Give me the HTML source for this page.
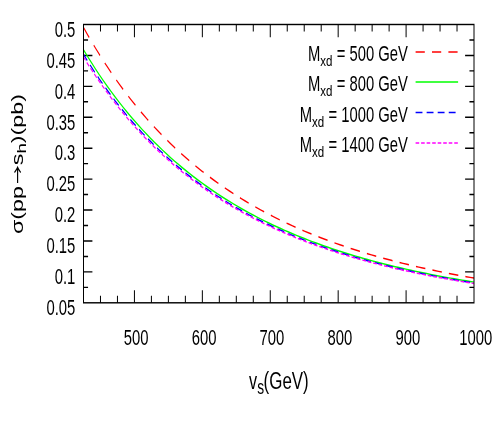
<!DOCTYPE html>
<html><head><meta charset="utf-8"><title>plot</title>
<style>html,body{margin:0;padding:0;background:#fff;}svg{display:block;}text{font-family:"Liberation Sans",sans-serif;fill:#000;}</style>
</head><body>
<svg width="498" height="429" viewBox="0 0 498 429">
<rect x="0" y="0" width="498" height="429" fill="#fff"/>
<defs><filter id="gs" filterUnits="userSpaceOnUse" x="-10" y="-10" width="520" height="450" color-interpolation-filters="sRGB"><feOffset dx="0" dy="0"/></filter></defs>
<g transform="scale(1,1.42)">
<g fill="none" stroke="#000" stroke-width="1.0" stroke-linecap="butt">
<path d="M100.48,213.24v-4.95 M100.48,17.25v4.95 M117.46,213.24v-4.95 M117.46,17.25v4.95 M134.43,213.24v-8.9 M134.43,17.25v8.9 M151.41,213.24v-4.95 M151.41,17.25v4.95 M168.39,213.24v-4.95 M168.39,17.25v4.95 M185.37,213.24v-4.95 M185.37,17.25v4.95 M202.35,213.24v-8.9 M202.35,17.25v8.9 M219.33,213.24v-4.95 M219.33,17.25v4.95 M236.30,213.24v-4.95 M236.30,17.25v4.95 M253.28,213.24v-4.95 M253.28,17.25v4.95 M270.26,213.24v-8.9 M270.26,17.25v8.9 M287.24,213.24v-4.95 M287.24,17.25v4.95 M304.22,213.24v-4.95 M304.22,17.25v4.95 M321.20,213.24v-4.95 M321.20,17.25v4.95 M338.17,213.24v-8.9 M338.17,17.25v8.9 M355.15,213.24v-4.95 M355.15,17.25v4.95 M372.13,213.24v-4.95 M372.13,17.25v4.95 M389.11,213.24v-4.95 M389.11,17.25v4.95 M406.09,213.24v-8.9 M406.09,17.25v8.9 M423.07,213.24v-4.95 M423.07,17.25v4.95 M440.04,213.24v-4.95 M440.04,17.25v4.95 M457.02,213.24v-4.95 M457.02,17.25v4.95 M83.5,202.35h4.55 M474.0,202.35h-4.55 M83.5,191.46h8.9 M474.0,191.46h-8.9 M83.5,180.58h4.55 M474.0,180.58h-4.55 M83.5,169.69h8.9 M474.0,169.69h-8.9 M83.5,158.80h4.55 M474.0,158.80h-4.55 M83.5,147.91h8.9 M474.0,147.91h-8.9 M83.5,137.02h4.55 M474.0,137.02h-4.55 M83.5,126.13h8.9 M474.0,126.13h-8.9 M83.5,115.25h4.55 M474.0,115.25h-4.55 M83.5,104.36h8.9 M474.0,104.36h-8.9 M83.5,93.47h4.55 M474.0,93.47h-4.55 M83.5,82.58h8.9 M474.0,82.58h-8.9 M83.5,71.69h4.55 M474.0,71.69h-4.55 M83.5,60.81h8.9 M474.0,60.81h-8.9 M83.5,49.92h4.55 M474.0,49.92h-4.55 M83.5,39.03h8.9 M474.0,39.03h-8.9 M83.5,28.14h4.55 M474.0,28.14h-4.55"/>
</g>
<g fill="none" stroke-width="1.05" stroke-linecap="butt" stroke-linejoin="round">
<path d="M83.50,19.27 L87.44,24.24 L91.39,29.05 L95.33,33.72 L99.28,38.25 L103.22,42.64 L107.17,46.91 L111.11,51.05 L115.06,55.08 L119.00,58.98 L122.94,62.78 L126.89,66.47 L130.83,70.06 L134.78,73.54 L138.72,76.94 L142.67,80.23 L146.61,83.44 L150.56,86.56 L154.50,89.60 L158.44,92.56 L162.39,95.44 L166.33,98.24 L170.28,100.97 L174.22,103.63 L178.17,106.22 L182.11,108.75 L186.06,111.21 L190.00,113.60 L193.94,115.94 L197.89,118.22 L201.83,120.44 L205.78,122.60 L209.72,124.72 L213.67,126.78 L217.61,128.79 L221.56,130.75 L225.50,132.66 L229.44,134.53 L233.39,136.35 L237.33,138.13 L241.28,139.86 L245.22,141.56 L249.17,143.21 L253.11,144.83 L257.06,146.41 L261.00,147.95 L264.94,149.45 L268.89,150.92 L272.83,152.36 L276.78,153.76 L280.72,155.14 L284.67,156.48 L288.61,157.79 L292.56,159.07 L296.50,160.32 L300.44,161.54 L304.39,162.74 L308.33,163.91 L312.28,165.05 L316.22,166.17 L320.17,167.26 L324.11,168.33 L328.06,169.37 L332.00,170.40 L335.94,171.40 L339.89,172.37 L343.83,173.33 L347.78,174.27 L351.72,175.18 L355.67,176.08 L359.61,176.96 L363.56,177.82 L367.50,178.66 L371.44,179.48 L375.39,180.29 L379.33,181.07 L383.28,181.84 L387.22,182.60 L391.17,183.34 L395.11,184.06 L399.06,184.77 L403.00,185.47 L406.94,186.15 L410.89,186.81 L414.83,187.47 L418.78,188.11 L422.72,188.73 L426.67,189.34 L430.61,189.95 L434.56,190.53 L438.50,191.11 L442.44,191.68 L446.39,192.23 L450.33,192.77 L454.28,193.31 L458.22,193.83 L462.17,194.34 L466.11,194.84 L470.06,195.33 L474.00,195.82" stroke="#ff0000" stroke-dasharray="9.5 7.14" stroke-dashoffset="0.4"/>
<path d="M83.50,35.02 L87.44,39.62 L91.39,44.09 L95.33,48.41 L99.28,52.61 L103.22,56.69 L107.17,60.64 L111.11,64.48 L115.06,68.21 L119.00,71.83 L122.94,75.35 L126.89,78.77 L130.83,82.10 L134.78,85.33 L138.72,88.48 L142.67,91.53 L146.61,94.51 L150.56,97.40 L154.50,100.22 L158.44,102.96 L162.39,105.63 L166.33,108.23 L170.28,110.76 L174.22,113.22 L178.17,115.62 L182.11,117.96 L186.06,120.24 L190.00,122.47 L193.94,124.63 L197.89,126.74 L201.83,128.80 L205.78,130.81 L209.72,132.77 L213.67,134.68 L217.61,136.54 L221.56,138.36 L225.50,140.13 L229.44,141.86 L233.39,143.55 L237.33,145.20 L241.28,146.81 L245.22,148.38 L249.17,149.91 L253.11,151.41 L257.06,152.88 L261.00,154.30 L264.94,155.70 L268.89,157.06 L272.83,158.40 L276.78,159.70 L280.72,160.97 L284.67,162.21 L288.61,163.42 L292.56,164.61 L296.50,165.77 L300.44,166.90 L304.39,168.01 L308.33,169.10 L312.28,170.16 L316.22,171.19 L320.17,172.21 L324.11,173.20 L328.06,174.17 L332.00,175.11 L335.94,176.04 L339.89,176.95 L343.83,177.83 L347.78,178.70 L351.72,179.55 L355.67,180.38 L359.61,181.20 L363.56,181.99 L367.50,182.77 L371.44,183.53 L375.39,184.28 L379.33,185.01 L383.28,185.73 L387.22,186.43 L391.17,187.11 L395.11,187.78 L399.06,188.44 L403.00,189.08 L406.94,189.71 L410.89,190.33 L414.83,190.94 L418.78,191.53 L422.72,192.11 L426.67,192.68 L430.61,193.24 L434.56,193.78 L438.50,194.32 L442.44,194.84 L446.39,195.35 L450.33,195.86 L454.28,196.35 L458.22,196.84 L462.17,197.31 L466.11,197.78 L470.06,198.23 L474.00,198.68" stroke="#00ff00"/>
<path d="M83.50,38.26 L87.44,42.78 L91.39,47.17 L95.33,51.43 L99.28,55.56 L103.22,59.57 L107.17,63.46 L111.11,67.24 L115.06,70.91 L119.00,74.47 L122.94,77.94 L126.89,81.30 L130.83,84.57 L134.78,87.75 L138.72,90.85 L142.67,93.85 L146.61,96.78 L150.56,99.63 L154.50,102.40 L158.44,105.10 L162.39,107.72 L166.33,110.28 L170.28,112.77 L174.22,115.19 L178.17,117.56 L182.11,119.86 L186.06,122.10 L190.00,124.29 L193.94,126.42 L197.89,128.50 L201.83,130.52 L205.78,132.50 L209.72,134.42 L213.67,136.30 L217.61,138.13 L221.56,139.92 L225.50,141.67 L229.44,143.37 L233.39,145.03 L237.33,146.65 L241.28,148.24 L245.22,149.78 L249.17,151.29 L253.11,152.77 L257.06,154.20 L261.00,155.61 L264.94,156.98 L268.89,158.32 L272.83,159.63 L276.78,160.92 L280.72,162.17 L284.67,163.39 L288.61,164.58 L292.56,165.75 L296.50,166.89 L300.44,168.01 L304.39,169.10 L308.33,170.16 L312.28,171.21 L316.22,172.23 L320.17,173.22 L324.11,174.20 L328.06,175.15 L332.00,176.08 L335.94,176.99 L339.89,177.89 L343.83,178.76 L347.78,179.61 L351.72,180.45 L355.67,181.27 L359.61,182.07 L363.56,182.85 L367.50,183.62 L371.44,184.37 L375.39,185.10 L379.33,185.82 L383.28,186.52 L387.22,187.21 L391.17,187.89 L395.11,188.55 L399.06,189.19 L403.00,189.83 L406.94,190.45 L410.89,191.06 L414.83,191.65 L418.78,192.23 L422.72,192.80 L426.67,193.36 L430.61,193.91 L434.56,194.45 L438.50,194.98 L442.44,195.49 L446.39,196.00 L450.33,196.49 L454.28,196.98 L458.22,197.45 L462.17,197.92 L466.11,198.38 L470.06,198.83 L474.00,199.27" stroke="#0000ff" stroke-dasharray="6.9 4.25" stroke-dashoffset="1.2"/>
<path d="M83.50,40.20 L87.44,44.68 L91.39,49.03 L95.33,53.24 L99.28,57.33 L103.22,61.30 L107.17,65.16 L111.11,68.90 L115.06,72.53 L119.00,76.06 L122.94,79.49 L126.89,82.82 L130.83,86.06 L134.78,89.21 L138.72,92.27 L142.67,95.25 L146.61,98.15 L150.56,100.96 L154.50,103.71 L158.44,106.38 L162.39,108.98 L166.33,111.51 L170.28,113.97 L174.22,116.38 L178.17,118.72 L182.11,120.99 L186.06,123.22 L190.00,125.38 L193.94,127.49 L197.89,129.55 L201.83,131.55 L205.78,133.51 L209.72,135.41 L213.67,137.28 L217.61,139.09 L221.56,140.86 L225.50,142.59 L229.44,144.27 L233.39,145.92 L237.33,147.53 L241.28,149.09 L245.22,150.62 L249.17,152.12 L253.11,153.58 L257.06,155.00 L261.00,156.39 L264.94,157.75 L268.89,159.08 L272.83,160.38 L276.78,161.65 L280.72,162.88 L284.67,164.10 L288.61,165.28 L292.56,166.43 L296.50,167.56 L300.44,168.67 L304.39,169.75 L308.33,170.80 L312.28,171.84 L316.22,172.84 L320.17,173.83 L324.11,174.80 L328.06,175.74 L332.00,176.66 L335.94,177.57 L339.89,178.45 L343.83,179.32 L347.78,180.16 L351.72,180.99 L355.67,181.80 L359.61,182.59 L363.56,183.37 L367.50,184.12 L371.44,184.87 L375.39,185.59 L379.33,186.31 L383.28,187.00 L387.22,187.68 L391.17,188.35 L395.11,189.01 L399.06,189.65 L403.00,190.27 L406.94,190.89 L410.89,191.49 L414.83,192.08 L418.78,192.66 L422.72,193.22 L426.67,193.77 L430.61,194.32 L434.56,194.85 L438.50,195.37 L442.44,195.88 L446.39,196.38 L450.33,196.87 L454.28,197.35 L458.22,197.82 L462.17,198.29 L466.11,198.74 L470.06,199.18 L474.00,199.62" stroke="#ff00ff" stroke-dasharray="3.6 1.92" stroke-dashoffset="0.55"/>
</g>
<rect x="83.5" y="17.25" width="390.50" height="195.99" fill="none" stroke="#000" stroke-width="1.0"/>
<g filter="url(#gs)">
<text transform="translate(75.35,221.90) scale(1.0,1.05)" font-size="14.85" text-anchor="end">0.05</text>
<text transform="translate(75.35,200.13) scale(1.0,1.05)" font-size="14.85" text-anchor="end">0.1</text>
<text transform="translate(75.35,178.35) scale(1.0,1.05)" font-size="14.85" text-anchor="end">0.15</text>
<text transform="translate(75.35,156.57) scale(1.0,1.05)" font-size="14.85" text-anchor="end">0.2</text>
<text transform="translate(75.35,134.80) scale(1.0,1.05)" font-size="14.85" text-anchor="end">0.25</text>
<text transform="translate(75.35,113.02) scale(1.0,1.05)" font-size="14.85" text-anchor="end">0.3</text>
<text transform="translate(75.35,91.24) scale(1.0,1.05)" font-size="14.85" text-anchor="end">0.35</text>
<text transform="translate(75.35,69.47) scale(1.0,1.05)" font-size="14.85" text-anchor="end">0.4</text>
<text transform="translate(75.35,47.69) scale(1.0,1.05)" font-size="14.85" text-anchor="end">0.45</text>
<text transform="translate(75.35,25.92) scale(1.0,1.05)" font-size="14.85" text-anchor="end">0.5</text>
<text transform="translate(136.13,242.75) scale(1.0,1.05)" font-size="14.85" text-anchor="middle">500</text>
<text transform="translate(204.05,242.75) scale(1.0,1.05)" font-size="14.85" text-anchor="middle">600</text>
<text transform="translate(271.96,242.75) scale(1.0,1.05)" font-size="14.85" text-anchor="middle">700</text>
<text transform="translate(339.87,242.75) scale(1.0,1.05)" font-size="14.85" text-anchor="middle">800</text>
<text transform="translate(407.79,242.75) scale(1.0,1.05)" font-size="14.85" text-anchor="middle">900</text>
<text transform="translate(475.70,242.75) scale(1.0,1.05)" font-size="14.85" text-anchor="middle">1000</text>
<path d="M415.6,36.62H458.1" fill="none" stroke="#ff0000" stroke-width="1.05" stroke-dasharray="9.2 7.2"/>
<text transform="translate(407.80,42.89) scale(1.0,1.05)" font-size="14.8" text-anchor="end"> = 500 GeV</text>
<text transform="translate(320.32,46.30) scale(1.0,0.9423076923076923)" font-size="11.544" text-anchor="start">xd</text>
<text transform="translate(320.32,42.89) scale(1.0,1.05)" font-size="14.8" text-anchor="end">M</text>
<path d="M415.6,57.82H458.1" fill="none" stroke="#00ff00" stroke-width="1.05"/>
<text transform="translate(407.80,64.15) scale(1.0,1.05)" font-size="14.8" text-anchor="end"> = 800 GeV</text>
<text transform="translate(320.32,67.57) scale(1.0,0.9423076923076923)" font-size="11.544" text-anchor="start">xd</text>
<text transform="translate(320.32,64.15) scale(1.0,1.05)" font-size="14.8" text-anchor="end">M</text>
<path d="M415.6,79.15H458.1" fill="none" stroke="#0000ff" stroke-width="1.05" stroke-dasharray="6.85 4.2"/>
<text transform="translate(407.80,85.77) scale(1.0,1.05)" font-size="14.8" text-anchor="end"> = 1000 GeV</text>
<text transform="translate(312.09,89.19) scale(1.0,0.9423076923076923)" font-size="11.544" text-anchor="start">xd</text>
<text transform="translate(312.09,85.77) scale(1.0,1.05)" font-size="14.8" text-anchor="end">M</text>
<path d="M415.6,100.63H458.1" fill="none" stroke="#ff00ff" stroke-width="1.05" stroke-dasharray="3.6 1.92"/>
<text transform="translate(407.80,107.25) scale(1.0,1.05)" font-size="14.8" text-anchor="end"> = 1400 GeV</text>
<text transform="translate(312.09,110.67) scale(1.0,0.9423076923076923)" font-size="11.544" text-anchor="start">xd</text>
<text transform="translate(312.09,107.25) scale(1.0,1.05)" font-size="14.8" text-anchor="end">M</text>
<text transform="translate(249.12,273.87) scale(0.94,0.96)" font-size="17.2" text-anchor="start">v</text>
<text transform="translate(257.32,277.46) scale(1.0,1.0464)" font-size="13.76" text-anchor="start">s</text>
<text transform="translate(263.60,273.87) scale(0.985,0.96)" font-size="17.2" text-anchor="start">(GeV)</text>
<g transform="translate(22.8,164.79) rotate(-90)">
<text x="0" y="0" font-size="16.4">σ(pp</text>
<text x="48.45" y="0" font-size="16.4">s<tspan font-size="13.12" dy="3.6">h</tspan><tspan dy="-3.6">)(pb)</tspan></text>
<path d="M35.85,-5.2H46.90 M43.30,-8.3 Q45.30,-6.2 46.90,-5.2 Q45.30,-4.2 43.30,-2.1" fill="none" stroke="#000" stroke-width="1.15" stroke-linejoin="miter"/>
</g>
</g>
</g>
</svg>
</body></html>
